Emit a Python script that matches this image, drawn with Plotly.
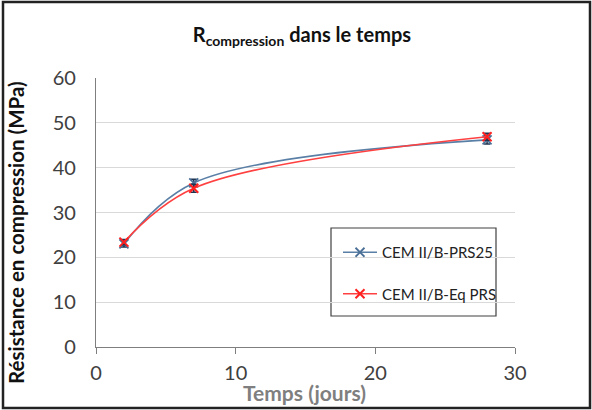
import plotly.graph_objects as go

days = [2, 7, 28]
prs25 = [23.0, 36.6, 46.2]
prs25_err = [0.7, 0.8, 0.9]
eqprs = [23.4, 35.4, 46.9]
eqprs_err = [0.6, 0.9, 0.8]
names = ["CEM II/B-PRS25", "CEM II/B-Eq PRS"]
x_ticks = [0, 10, 20, 30]
y_ticks = [0, 10, 20, 30, 40, 50, 60]

W, H = 592, 410
L, R, T, B = 96, 77, 78, 63
pw, ph = W - L - R, H - T - B

font = "Lato, 'Open Sans', sans-serif"

fig = go.Figure()
fig.add_trace(go.Scatter(
    x=days, y=prs25, name=names[0], mode="lines+markers",
    line=dict(color="#5a7fa6", width=1.6, shape="spline", smoothing=1.0),
    marker=dict(symbol="x-thin", size=9, line=dict(color="#4a6f96", width=1.8)),
    error_y=dict(type="data", array=prs25_err, color="#1f3450", thickness=1.5, width=3),
    legendgroup="a",
))
fig.add_trace(go.Scatter(
    x=days, y=eqprs, name=names[1], mode="lines+markers",
    line=dict(color="#ff4040", width=1.6, shape="spline", smoothing=1.0),
    marker=dict(symbol="x-thin", size=9, line=dict(color="#ff2020", width=2)),
    error_y=dict(type="data", array=eqprs_err, color="#1f3450", thickness=1.5, width=3),
    legendgroup="b",
))

def px_x(p):
    return (p - L) / pw

def px_y(p):
    return (H - B - p) / ph

fig.update_layout(
    width=W, height=H,
    margin=dict(l=L, r=R, t=T, b=B, autoexpand=False),
    paper_bgcolor="white", plot_bgcolor="white",
    font=dict(family=font, color="#404040"),
    title=dict(text="<b>R<sub>compression</sub> dans le temps</b>",
               x=0.51, xanchor="center", y=1 - 35 / H, yanchor="middle",
               yref="container", font=dict(size=20, color="#111111", family=font)),
    xaxis=dict(range=[0, 30], tickvals=x_ticks, showgrid=False, zeroline=False,
               showline=True, linecolor="#7f7f7f", linewidth=1.2,
               ticks="outside", ticklen=6, tickcolor="#7f7f7f", ticklabelstandoff=2,
               tickfont=dict(size=20, color="#404040")),
    yaxis=dict(range=[0, 60], tickvals=y_ticks, showgrid=True, gridcolor="#d9d9d9",
               gridwidth=1, zeroline=False, showline=True, linecolor="#7f7f7f",
               linewidth=1.2, ticks="", ticklabelstandoff=15,
               tickfont=dict(size=20, color="#404040")),
    legend=dict(x=px_x(338), y=px_y(236), xanchor="left", yanchor="top",
                bgcolor="rgba(0,0,0,0)", borderwidth=0,
                font=dict(size=15, color="#222222", family=font),
                tracegroupgap=19, itemwidth=34),
    showlegend=True,
    annotations=[
        dict(text="<b>Temps (jours)</b>", x=px_x(304), y=px_y(392), xref="paper", yref="paper",
             xanchor="center", yanchor="middle", showarrow=False,
             font=dict(size=21, color="#7f7f7f", family=font)),
        dict(text="<b>Résistance en compression (MPa)</b>", x=px_x(16), y=px_y(233),
             xref="paper", yref="paper", xanchor="center", yanchor="middle",
             textangle=-90, showarrow=False,
             font=dict(size=20.5, color="#111111", family=font)),
    ],
    shapes=[
        dict(type="rect", xref="paper", yref="paper",
             x0=px_x(3), x1=px_x(590), y0=px_y(408), y1=px_y(2),
             line=dict(color="#222222", width=2.5), fillcolor="rgba(0,0,0,0)"),
        dict(type="rect", xref="paper", yref="paper",
             x0=px_x(331), x1=px_x(496), y0=px_y(316), y1=px_y(228),
             line=dict(color="#404040", width=1.2), fillcolor="white", layer="below"),
    ],
)

fig.write_html("out.html", config={"displayModeBar": False},
               post_script="document.body.style.margin='0';document.body.style.padding='0';")
